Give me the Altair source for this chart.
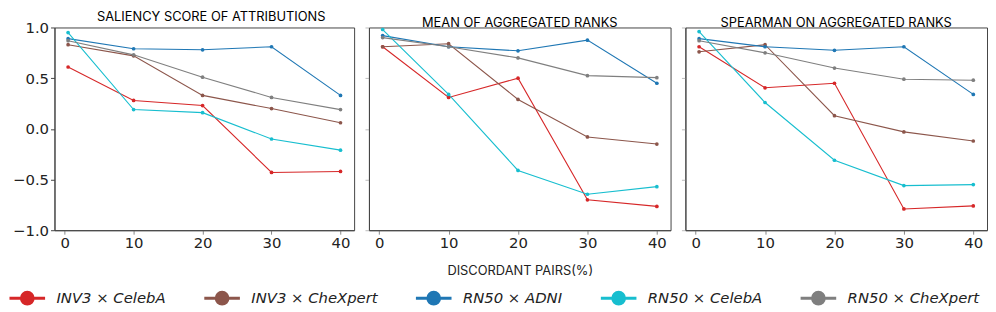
import altair as alt
import pandas as pd

x_vals = [0.5, 10, 20, 30, 40]
x_ticks = [0, 10, 20, 30, 40]
series = ["INV3 × CelebA", "INV3 × CheXpert", "RN50 × ADNI", "RN50 × CelebA", "RN50 × CheXpert"]
colors = ["#d62728", "#8c564b", "#1f77b4", "#17becf", "#7f7f7f"]
panels = ["SALIENCY SCORE OF ATTRIBUTIONS", "MEAN OF AGGREGATED RANKS", "SPEARMAN ON AGGREGATED RANKS"]

# panel 1: saliency score of attributions
p1_inv3_celeba = [0.61, 0.28, 0.23, -0.43, -0.42]
p1_inv3_chexpert = [0.83, 0.72, 0.33, 0.20, 0.06]
p1_rn50_adni = [0.89, 0.79, 0.78, 0.81, 0.33]
p1_rn50_celeba = [0.95, 0.19, 0.16, -0.10, -0.21]
p1_rn50_chexpert = [0.87, 0.73, 0.51, 0.31, 0.19]

# panel 2: mean of aggregated ranks
p2_inv3_celeba = [0.81, 0.31, 0.50, -0.70, -0.765]
p2_inv3_chexpert = [0.81, 0.84, 0.29, -0.08, -0.15]
p2_rn50_adni = [0.92, 0.81, 0.77, 0.875, 0.45]
p2_rn50_celeba = [0.98, 0.34, -0.41, -0.645, -0.57]
p2_rn50_chexpert = [0.90, 0.81, 0.70, 0.525, 0.505]

# panel 3: spearman on aggregated ranks
p3_inv3_celeba = [0.81, 0.405, 0.45, -0.79, -0.76]
p3_inv3_chexpert = [0.76, 0.83, 0.13, -0.03, -0.12]
p3_rn50_adni = [0.89, 0.81, 0.775, 0.81, 0.34]
p3_rn50_celeba = [0.96, 0.26, -0.31, -0.56, -0.55]
p3_rn50_chexpert = [0.87, 0.75, 0.60, 0.49, 0.48]

panel_data = [
    [p1_inv3_celeba, p1_inv3_chexpert, p1_rn50_adni, p1_rn50_celeba, p1_rn50_chexpert],
    [p2_inv3_celeba, p2_inv3_chexpert, p2_rn50_adni, p2_rn50_celeba, p2_rn50_chexpert],
    [p3_inv3_celeba, p3_inv3_chexpert, p3_rn50_adni, p3_rn50_celeba, p3_rn50_chexpert],
]
panel_widths = [303, 305, 305]
title_dx = [7, 0, 0]

color_scale = alt.Scale(domain=series, range=colors)
legend_path = "M-1,0H1M0.33,0A0.33,0.33 0 1,1 -0.33,0A0.33,0.33 0 1,1 0.33,0Z"
legend = alt.Legend(title=None, orient="none", legendX=-47, legendY=254, direction="horizontal",
                    columns=5, symbolType=legend_path, symbolSize=1296,
                    symbolStrokeWidth=3, labelFontSize=15,
                    labelFontStyle="italic", labelOffset=10,
                    columnPadding=32)

charts = []
for i, (title, vals) in enumerate(zip(panels, panel_data)):
    rows = []
    for s, ys in zip(series, vals):
        for xv, yv in zip(x_vals, ys):
            rows.append({"x": xv, "y": yv, "series": s})
    df = pd.DataFrame(rows)
    xaxis = alt.Axis(values=x_ticks, grid=False, labelFontSize=15, tickSize=4,
                     labelPadding=1,
                     title="DISCORDANT PAIRS(%)" if i == 1 else None,
                     titleFontSize=13, titleFontWeight="normal", titlePadding=15,
                     titleFont="Inter", labelFlush=False)
    yaxis = alt.Axis(values=[-1.0, -0.5, 0.0, 0.5, 1.0], format=".1f", grid=False,
                     labels=(i == 0), labelFontSize=15, tickSize=4, labelPadding=2,
                     title=None, tickColor="#444" if i == 0 else "#bbb")
    xs = alt.X("x:Q", scale=alt.Scale(domain=[-1.475, 41.975], nice=False, zero=False), axis=xaxis)
    ys = alt.Y("y:Q", scale=alt.Scale(domain=[-1.0, 1.0], nice=False), axis=yaxis)
    base = alt.Chart(df)
    line = base.mark_line(strokeWidth=1.1).encode(
        x=xs, y=ys,
        color=alt.Color("series:N", scale=color_scale, sort=series, legend=legend),
        detail="series:N",
    )
    pts = base.mark_point(filled=True, size=14, opacity=1).encode(
        x=xs, y=ys,
        color=alt.Color("series:N", scale=color_scale, sort=series, legend=legend),
    )
    ch = alt.layer(line, pts).properties(
        width=panel_widths[i], height=205,
        title=alt.TitleParams(title, fontSize=13, fontWeight="normal", font="Inter",
                              offset=-6, dy=-3, dx=title_dx[i]),
    )
    charts.append(ch)

chart = alt.hconcat(*charts, spacing=9).properties(padding=0).configure_view(
    stroke="#444", strokeWidth=1
).configure_axis(
    domainColor="#444", labelColor="#222", labelFont="DejaVu Sans", titleFont="DejaVu Sans",
    titleColor="#222", domain=True
).configure_legend(
    labelFont="DejaVu Sans", labelColor="#222"
)

chart.save("out.html", embed_options={"renderer": "svg", "actions": False})
